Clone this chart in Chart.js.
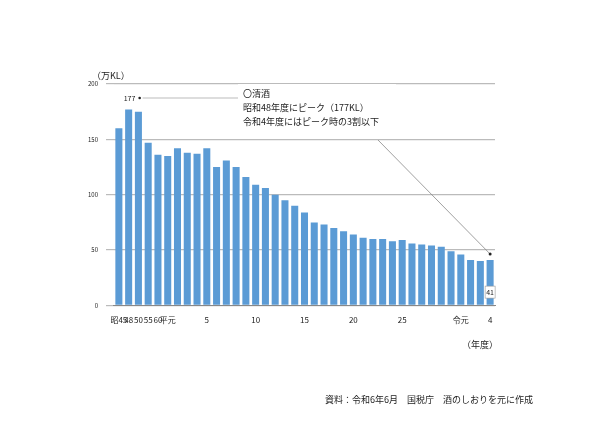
<!DOCTYPE html>
<html><head><meta charset="utf-8">
<script src="https://cdn.jsdelivr.net/npm/chart.js@4"></script>
<style>html,body{margin:0;padding:0;background:#fff}#w{position:relative;width:600px;height:439px}</style>
</head><body><div id="w"><canvas id="c" width="600" height="439"></canvas></div>
<script>
const categories = ["昭45","48","50","55","60","平元","2","3","4","5","6","7","8","9","10","11","12","13","14","15","16","17","18","19","20","21","22","23","24","25","26","27","28","29","30","令元","2","3","4"];
const shownTicks = [0,1,2,3,4,5,9,14,19,24,29,35,38];
const sakeValues = [160,177,175,147,136,135,142,138,137,142,125,131,125,116,109,106,100,95,90,84,75,73,70,67,64,61,60,60,58,59,56,55,54,53,49,46,41,40,41];
const yTicks = [0,50,100,150,200];
const F = '"Noto Sans CJK JP","Noto Sans",sans-serif';

const deco = {
  id:'deco',
  afterDraw(ch){
    const c = ch.ctx, x = ch.scales.x, y = ch.scales.y;
    c.save();
    c.fillStyle='#222'; c.font='9px '+F; c.textAlign='left'; c.textBaseline='middle';
    c.fillText('（万KL）', 92, 76);
    c.fillText('（年度）', 462, 345);
    // annotation box
    c.fillStyle='#fff'; c.fillRect(238,84,158,46);
    c.fillStyle='#222'; c.font='9px '+F;
    c.fillText('〇清酒', 243, 94);
    c.fillText('昭和48年度にピーク（177KL）', 243, 108);
    c.fillText('令和4年度にはピーク時の3割以下', 243, 122);
    // leader line to R4
    const xr = x.getPixelForValue(38), yr = y.getPixelForValue(sakeValues[38]);
    c.strokeStyle='#888'; c.lineWidth=0.8;
    c.beginPath(); c.moveTo(378,140); c.lineTo(xr, yr-6); c.stroke();
    c.fillStyle='#222'; c.beginPath(); c.arc(xr, yr-6, 1.5, 0, 7); c.fill();
    // 177 label
    const xp = x.getPixelForValue(1), yp = y.getPixelForValue(200)+14;
    c.font='7px '+F; c.fillText('177', xp-5, yp);
    c.beginPath(); c.arc(xp+11, yp, 1.3, 0, 7); c.fill();
    c.strokeStyle='#aaa'; c.beginPath(); c.moveTo(xp+14,yp); c.lineTo(238,yp); c.stroke();
    // 41 label
    const yl = y.getPixelForValue(12);
    c.fillStyle='#fff'; c.strokeStyle='#999'; c.lineWidth=0.6;
    c.fillRect(xr-5, yl-6, 10, 12); c.strokeRect(xr-5, yl-6, 10, 12);
    c.fillStyle='#222'; c.textAlign='center'; c.font='7px '+F; c.fillText('41', xr, yl);
    // source
    c.textAlign='left'; c.font='9px '+F;
    c.fillText('資料：令和6年6月　国税庁　酒のしおりを元に作成', 325, 400);
    c.restore();
  }
};

new Chart(document.getElementById('c'), {
  type:'bar',
  data:{labels:categories, datasets:[{data:sakeValues, backgroundColor:'#5b9bd5', barPercentage:0.72, categoryPercentage:1}]},
  options:{
    responsive:false, animation:false, devicePixelRatio:1,
    layout:{padding:{left:80,right:105,top:84,bottom:112}},
    plugins:{legend:{display:false}, tooltip:{enabled:false}},
    scales:{
      x:{grid:{display:false}, border:{display:true,color:'#888'},
         ticks:{autoSkip:false, maxRotation:0, padding:2, color:'#222', font:{size:8,family:F},
                callback:(v,i)=> shownTicks.includes(i) ? (i===38?'4':categories[i]) : ''}},
      y:{min:0,max:200, afterBuildTicks:a=>{a.ticks=yTicks.map(v=>({value:v}));},
         grid:{color:'#bbb',lineWidth:1.2}, border:{display:false},
         ticks:{color:'#222', padding:8, font:{size:6,family:F}}}
    }
  },
  plugins:[deco]
});
</script></body></html>
